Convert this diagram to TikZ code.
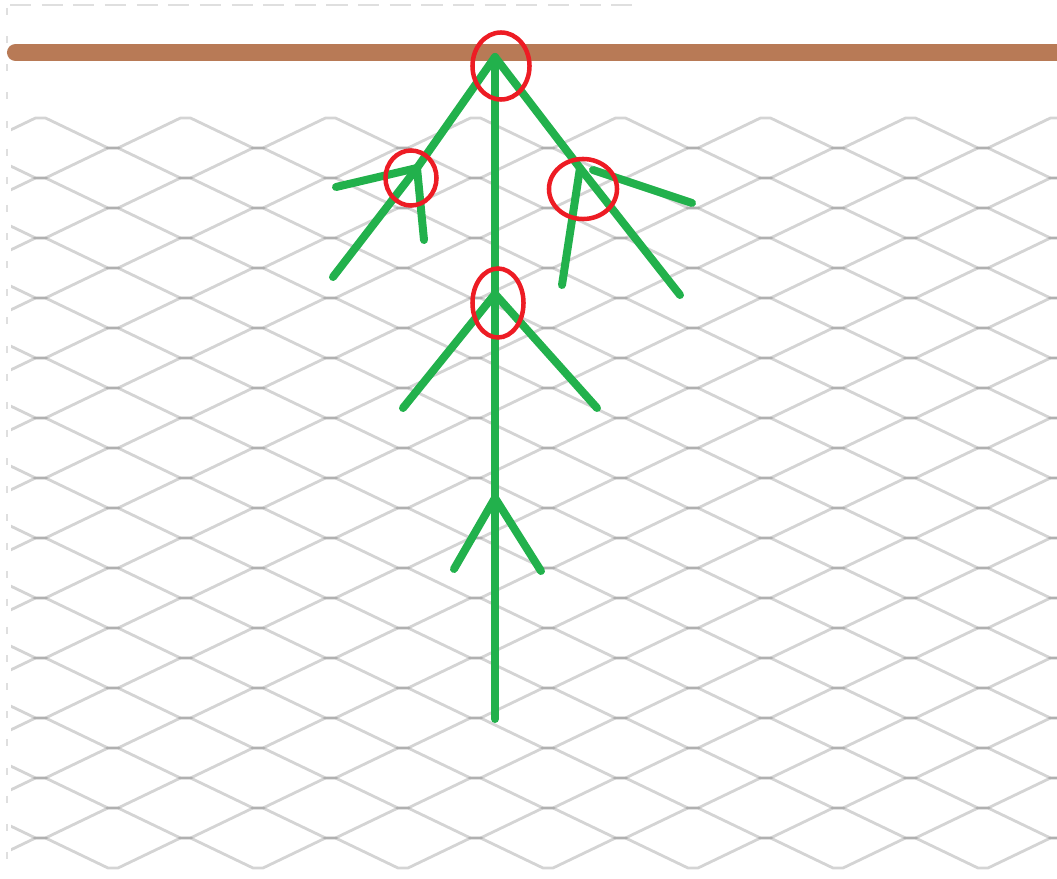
\documentclass[tikz,border=0pt]{standalone}
\usetikzlibrary{shapes.geometric}

\definecolor{stemgreen}{RGB}{34,177,76}
\definecolor{ringred}{RGB}{237,28,36}
\definecolor{wirebrown}{RGB}{184,122,86}

\begin{document}
\begin{tikzpicture}[x=0.01cm, y=-0.01cm,
    netline/.style={draw=black, draw opacity=0.17, line width=0.028cm, line join=round},
    stem/.style={draw=stemgreen, line width=0.08cm, line cap=round, line join=round},
    ring/.style={draw=ringred, line width=0.045cm, ellipse, inner sep=0pt}]
    \useasboundingbox (0,0) rectangle (1057,879);

    \begin{scope}
      \clip (11,100) rectangle (1057,877);
      \foreach \k in {0,...,24} {
        \pgfmathsetmacro{\sgn}{ifthenelse(mod(\k,2)==0,1,-1)}
        \pgfmathsetmacro{\ylo}{133+30*\k+15*\sgn}
        \pgfmathsetmacro{\yhi}{133+30*\k-15*\sgn}
        \draw[netline] (-37,\ylo) -- (-27,\ylo) -- (35.5,\yhi) -- (45.5,\yhi)
          \foreach \i in {0,...,7} { -- ({108+145*\i},\ylo) -- ({118+145*\i},\ylo)
                                     -- ({180.5+145*\i},\yhi) -- ({190.5+145*\i},\yhi) };
      }
    \end{scope}
    \draw[gray!25, line width=0.02cm, dash pattern=on 6pt off 3pt] (10,5) -- (640,5);
    \draw[gray!25, line width=0.02cm, dash pattern=on 2pt off 6pt] (7,8) -- (7,879);

    \coordinate (wl) at (15.5,52.5);
    \coordinate (wr) at (1070,52.5);
    \draw[wirebrown, line width=0.17cm, line cap=round] (wl) -- (wr);

    \coordinate (apex) at (495,57);
    \coordinate (lsplit) at (417,168);
    \coordinate (rsplit) at (580,168);
    \coordinate (msplit) at (495,294);
    \coordinate (fork) at (495,498);
    \coordinate (base) at (495,719);
    \coordinate (ltip) at (333,277);
    \coordinate (lleaf) at (336,187);
    \coordinate (ldrop) at (424,240);
    \coordinate (rtip) at (680,295);
    \coordinate (rroot) at (593,170);
    \coordinate (rleaf) at (692,203);
    \coordinate (rdrop) at (562,285);
    \coordinate (mleft) at (403,408);
    \coordinate (mright) at (597,408);
    \coordinate (fleft) at (454,569);
    \coordinate (fright) at (541,571);

    \draw[stem] (apex) -- (base);
    \draw[stem] (apex) -- (lsplit) -- (ltip);
    \draw[stem] (lsplit) -- (lleaf);
    \draw[stem] (lsplit) -- (ldrop);
    \draw[stem] (apex) -- (rsplit) -- (rtip);
    \draw[stem] (rroot) -- (rleaf);
    \draw[stem] (rsplit) -- (rdrop);
    \draw[stem] (mleft) -- (msplit) -- (mright);
    \draw[stem] (fleft) -- (fork) -- (fright);

    \node[ring, minimum width=0.57cm, minimum height=0.67cm] (topring) at (501,66) {};
    \node[ring, minimum width=0.51cm, minimum height=0.55cm] (lring) at (411,178) {};
    \node[ring, minimum width=0.68cm, minimum height=0.60cm] (rring) at (583,189) {};
    \node[ring, minimum width=0.51cm, minimum height=0.69cm] (mring) at (498,303) {};
\end{tikzpicture}
\end{document}
